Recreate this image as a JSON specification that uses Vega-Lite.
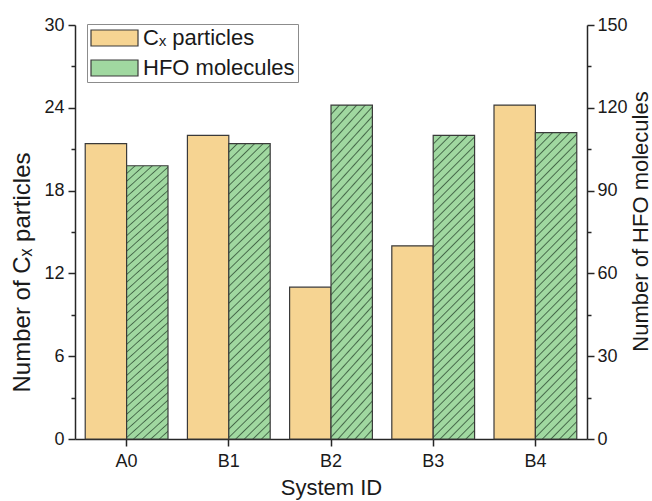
{
  "$schema": "https://vega.github.io/schema/vega-lite/v6.json",
  "width": 512,
  "height": 414,
  "autosize": {"type": "none"},
  "padding": {"left": 75, "top": 25, "right": 65, "bottom": 62},
  "background": "white",
  "config": {
    "view": {"stroke": null},
    "font": "Liberation Sans",
    "axis": {
      "grid": false,
      "domainColor": "#262626",
      "domainWidth": 1.5,
      "tickColor": "#262626",
      "tickWidth": 1.5,
      "labelColor": "#1a1a1a",
      "titleColor": "#1a1a1a",
      "labelFont": "Liberation Sans",
      "titleFont": "Liberation Sans",
      "labelFontSize": 18,
      "titleFontSize": 22,
      "titleFontWeight": "normal"
    }
  },
  "data": {
    "values": [
      {"system": "A0", "series": "Cₓ particles", "value": 21.4},
      {"system": "A0", "series": "HFO molecules", "value": 99},
      {"system": "B1", "series": "Cₓ particles", "value": 22},
      {"system": "B1", "series": "HFO molecules", "value": 107},
      {"system": "B2", "series": "Cₓ particles", "value": 11},
      {"system": "B2", "series": "HFO molecules", "value": 121},
      {"system": "B3", "series": "Cₓ particles", "value": 14},
      {"system": "B3", "series": "HFO molecules", "value": 110},
      {"system": "B4", "series": "Cₓ particles", "value": 24.2},
      {"system": "B4", "series": "HFO molecules", "value": 111}
    ]
  },
  "encoding": {
    "x": {
      "field": "system",
      "type": "nominal",
      "scale": {"paddingInner": 0.19, "paddingOuter": 0.1},
      "axis": {"title": "System ID", "labelAngle": 0, "tickSize": 7, "labelPadding": 6, "titlePadding": 7}
    },
    "xOffset": {
      "field": "series",
      "type": "nominal",
      "scale": {"domain": ["Cₓ particles", "HFO molecules"], "paddingInner": 0, "paddingOuter": 0}
    }
  },
  "layer": [
    {
      "transform": [{"filter": "datum.series === 'Cₓ particles'"}],
      "mark": {"type": "bar", "stroke": "#3a3a3a", "strokeWidth": 1.2},
      "encoding": {
        "y": {
          "field": "value",
          "type": "quantitative",
          "scale": {"domain": [0, 30], "nice": false, "zero": true},
          "axis": {
            "orient": "left",
            "title": "Number of Cₓ particles",
            "titleFontSize": 24,
            "titleY": 247,
            "values": [0, 3, 6, 9, 12, 15, 18, 21, 24, 27, 30],
            "labelExpr": "datum.value % 6 === 0 ? datum.label : ''",
            "tickSize": {"condition": {"test": "datum.value % 6 === 0", "value": 7}, "value": 4},
            "labelPadding": 4,
            "titlePadding": 9
          }
        },
        "fill": {
          "field": "series",
          "type": "nominal",
          "scale": {"domain": ["Cₓ particles", "HFO molecules"], "range": ["#f6d492", "#a0d8a0"]},
          "legend": {
            "title": null,
            "orient": "none",
            "legendX": 12,
            "legendY": -1,
            "direction": "vertical",
            "strokeColor": "#8c8c8c",
            "fillColor": "white",
            "padding": 3,
            "rowPadding": 8,
            "symbolType": "M-2.35,-0.8H2.35V0.8H-2.35Z",
            "symbolSize": 400,
            "symbolOffset": 13.5,
            "symbolStrokeWidth": 1.2,
            "symbolStrokeColor": "#3a3a3a",
            "labelFont": "Liberation Sans",
            "labelFontSize": 22,
            "labelColor": "#1a1a1a",
            "labelOffset": 17.5,
            "encode": {
              "symbols": {
                "update": {
                  "fill": [
                    {
                      "test": "datum.value === 'HFO molecules'",
                      "value": {
                        "gradient": "linear", "x1": 0, "y1": 0, "x2": 1.2, "y2": 0.409,
                        "stops": [
                          {"offset": 0, "color": "#a0d8a0"},
                          {"offset": 0.105, "color": "#a0d8a0"}, {"offset": 0.125, "color": "#46694a"}, {"offset": 0.145, "color": "#a0d8a0"},
                          {"offset": 0.23, "color": "#a0d8a0"}, {"offset": 0.25, "color": "#46694a"}, {"offset": 0.27, "color": "#a0d8a0"},
                          {"offset": 0.355, "color": "#a0d8a0"}, {"offset": 0.375, "color": "#46694a"}, {"offset": 0.395, "color": "#a0d8a0"},
                          {"offset": 0.48, "color": "#a0d8a0"}, {"offset": 0.5, "color": "#46694a"}, {"offset": 0.52, "color": "#a0d8a0"},
                          {"offset": 0.605, "color": "#a0d8a0"}, {"offset": 0.625, "color": "#46694a"}, {"offset": 0.645, "color": "#a0d8a0"},
                          {"offset": 0.73, "color": "#a0d8a0"}, {"offset": 0.75, "color": "#46694a"}, {"offset": 0.77, "color": "#a0d8a0"},
                          {"offset": 0.855, "color": "#a0d8a0"}, {"offset": 0.875, "color": "#46694a"}, {"offset": 0.895, "color": "#a0d8a0"},
                          {"offset": 1, "color": "#a0d8a0"}
                        ]
                      }
                    },
                    {"value": "#f6d492"}
                  ],
                  "stroke": {"value": "#3a3a3a"},
                  "strokeWidth": {"value": 1.2}
                }
              }
            }
          }
        }
      }
    },
    {
      "transform": [{"filter": "datum.series === 'HFO molecules'"}],
      "mark": {
        "type": "bar",
        "stroke": "#3a3a3a",
        "strokeWidth": 1.2,
        "fill": {
          "gradient": "linear", "x1": 0, "y1": 0, "x2": 0.153, "y2": 1.116,
          "stops": [
            {"offset": 0, "color": "#a0d8a0"},
            {"offset": 0.021, "color": "#a0d8a0"}, {"offset": 0.025, "color": "#46694a"}, {"offset": 0.029, "color": "#a0d8a0"},
            {"offset": 0.046, "color": "#a0d8a0"}, {"offset": 0.05, "color": "#46694a"}, {"offset": 0.054, "color": "#a0d8a0"},
            {"offset": 0.071, "color": "#a0d8a0"}, {"offset": 0.075, "color": "#46694a"}, {"offset": 0.079, "color": "#a0d8a0"},
            {"offset": 0.096, "color": "#a0d8a0"}, {"offset": 0.1, "color": "#46694a"}, {"offset": 0.104, "color": "#a0d8a0"},
            {"offset": 0.121, "color": "#a0d8a0"}, {"offset": 0.125, "color": "#46694a"}, {"offset": 0.129, "color": "#a0d8a0"},
            {"offset": 0.146, "color": "#a0d8a0"}, {"offset": 0.15, "color": "#46694a"}, {"offset": 0.154, "color": "#a0d8a0"},
            {"offset": 0.171, "color": "#a0d8a0"}, {"offset": 0.175, "color": "#46694a"}, {"offset": 0.179, "color": "#a0d8a0"},
            {"offset": 0.196, "color": "#a0d8a0"}, {"offset": 0.2, "color": "#46694a"}, {"offset": 0.204, "color": "#a0d8a0"},
            {"offset": 0.221, "color": "#a0d8a0"}, {"offset": 0.225, "color": "#46694a"}, {"offset": 0.229, "color": "#a0d8a0"},
            {"offset": 0.246, "color": "#a0d8a0"}, {"offset": 0.25, "color": "#46694a"}, {"offset": 0.254, "color": "#a0d8a0"},
            {"offset": 0.271, "color": "#a0d8a0"}, {"offset": 0.275, "color": "#46694a"}, {"offset": 0.279, "color": "#a0d8a0"},
            {"offset": 0.296, "color": "#a0d8a0"}, {"offset": 0.3, "color": "#46694a"}, {"offset": 0.304, "color": "#a0d8a0"},
            {"offset": 0.321, "color": "#a0d8a0"}, {"offset": 0.325, "color": "#46694a"}, {"offset": 0.329, "color": "#a0d8a0"},
            {"offset": 0.346, "color": "#a0d8a0"}, {"offset": 0.35, "color": "#46694a"}, {"offset": 0.354, "color": "#a0d8a0"},
            {"offset": 0.371, "color": "#a0d8a0"}, {"offset": 0.375, "color": "#46694a"}, {"offset": 0.379, "color": "#a0d8a0"},
            {"offset": 0.396, "color": "#a0d8a0"}, {"offset": 0.4, "color": "#46694a"}, {"offset": 0.404, "color": "#a0d8a0"},
            {"offset": 0.421, "color": "#a0d8a0"}, {"offset": 0.425, "color": "#46694a"}, {"offset": 0.429, "color": "#a0d8a0"},
            {"offset": 0.446, "color": "#a0d8a0"}, {"offset": 0.45, "color": "#46694a"}, {"offset": 0.454, "color": "#a0d8a0"},
            {"offset": 0.471, "color": "#a0d8a0"}, {"offset": 0.475, "color": "#46694a"}, {"offset": 0.479, "color": "#a0d8a0"},
            {"offset": 0.496, "color": "#a0d8a0"}, {"offset": 0.5, "color": "#46694a"}, {"offset": 0.504, "color": "#a0d8a0"},
            {"offset": 0.521, "color": "#a0d8a0"}, {"offset": 0.525, "color": "#46694a"}, {"offset": 0.529, "color": "#a0d8a0"},
            {"offset": 0.546, "color": "#a0d8a0"}, {"offset": 0.55, "color": "#46694a"}, {"offset": 0.554, "color": "#a0d8a0"},
            {"offset": 0.571, "color": "#a0d8a0"}, {"offset": 0.575, "color": "#46694a"}, {"offset": 0.579, "color": "#a0d8a0"},
            {"offset": 0.596, "color": "#a0d8a0"}, {"offset": 0.6, "color": "#46694a"}, {"offset": 0.604, "color": "#a0d8a0"},
            {"offset": 0.621, "color": "#a0d8a0"}, {"offset": 0.625, "color": "#46694a"}, {"offset": 0.629, "color": "#a0d8a0"},
            {"offset": 0.646, "color": "#a0d8a0"}, {"offset": 0.65, "color": "#46694a"}, {"offset": 0.654, "color": "#a0d8a0"},
            {"offset": 0.671, "color": "#a0d8a0"}, {"offset": 0.675, "color": "#46694a"}, {"offset": 0.679, "color": "#a0d8a0"},
            {"offset": 0.696, "color": "#a0d8a0"}, {"offset": 0.7, "color": "#46694a"}, {"offset": 0.704, "color": "#a0d8a0"},
            {"offset": 0.721, "color": "#a0d8a0"}, {"offset": 0.725, "color": "#46694a"}, {"offset": 0.729, "color": "#a0d8a0"},
            {"offset": 0.746, "color": "#a0d8a0"}, {"offset": 0.75, "color": "#46694a"}, {"offset": 0.754, "color": "#a0d8a0"},
            {"offset": 0.771, "color": "#a0d8a0"}, {"offset": 0.775, "color": "#46694a"}, {"offset": 0.779, "color": "#a0d8a0"},
            {"offset": 0.796, "color": "#a0d8a0"}, {"offset": 0.8, "color": "#46694a"}, {"offset": 0.804, "color": "#a0d8a0"},
            {"offset": 0.821, "color": "#a0d8a0"}, {"offset": 0.825, "color": "#46694a"}, {"offset": 0.829, "color": "#a0d8a0"},
            {"offset": 0.846, "color": "#a0d8a0"}, {"offset": 0.85, "color": "#46694a"}, {"offset": 0.854, "color": "#a0d8a0"},
            {"offset": 0.871, "color": "#a0d8a0"}, {"offset": 0.875, "color": "#46694a"}, {"offset": 0.879, "color": "#a0d8a0"},
            {"offset": 0.896, "color": "#a0d8a0"}, {"offset": 0.9, "color": "#46694a"}, {"offset": 0.904, "color": "#a0d8a0"},
            {"offset": 0.921, "color": "#a0d8a0"}, {"offset": 0.925, "color": "#46694a"}, {"offset": 0.929, "color": "#a0d8a0"},
            {"offset": 0.946, "color": "#a0d8a0"}, {"offset": 0.95, "color": "#46694a"}, {"offset": 0.954, "color": "#a0d8a0"},
            {"offset": 0.971, "color": "#a0d8a0"}, {"offset": 0.975, "color": "#46694a"}, {"offset": 0.979, "color": "#a0d8a0"},
            {"offset": 1, "color": "#a0d8a0"}
          ]
        }
      },
      "encoding": {
        "y": {
          "field": "value",
          "type": "quantitative",
          "scale": {"domain": [0, 150], "nice": false, "zero": true},
          "axis": {
            "orient": "right",
            "title": "Number of HFO molecules",
            "titleFontSize": 22,
            "titleY": 196,
            "values": [0, 15, 30, 45, 60, 75, 90, 105, 120, 135, 150],
            "labelExpr": "datum.value % 30 === 0 ? datum.label : ''",
            "tickSize": {"condition": {"test": "datum.value % 30 === 0", "value": 7}, "value": 4},
            "labelPadding": 3,
            "titleAngle": 270,
            "titleBaseline": "top",
            "titlePadding": 3
          }
        }
      }
    }
  ],
  "resolve": {"scale": {"y": "independent"}}
}
